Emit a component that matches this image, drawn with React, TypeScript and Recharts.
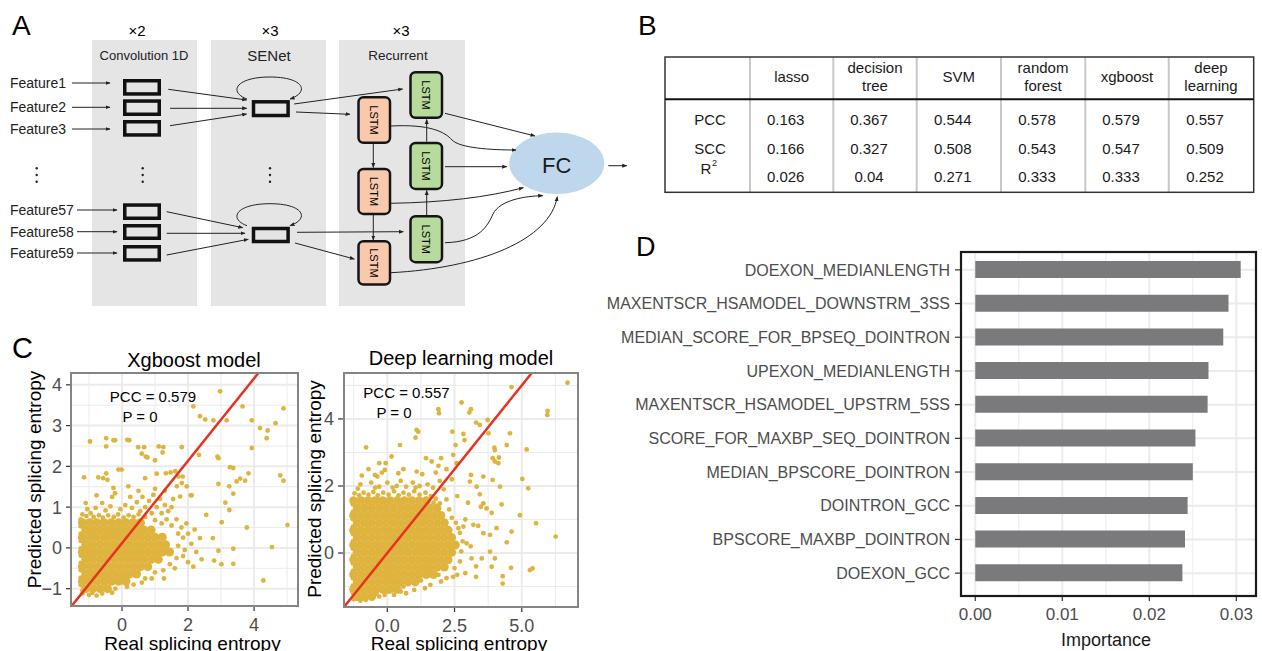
import React from 'react';
import { ScatterChart, Scatter, XAxis, YAxis, CartesianGrid, BarChart, Bar } from 'recharts';

const FONT = "'Liberation Sans', Arial, Helvetica, sans-serif";
const DOT = '#DFB43E';
const RED = '#E5331F';
const GRID = '#EBEBEB';
const TICK_TXT = '#4D4D4D';

// ---- B: model comparison table
const MODELS = [['lasso'], ['decision', 'tree'], ['SVM'], ['random', 'forest'], ['xgboost'], ['deep', 'learning']];
const METRICS = ['PCC', 'SCC', 'R'];
const PCC = [0.163, 0.367, 0.544, 0.578, 0.579, 0.557];
const SCC = [0.166, 0.327, 0.508, 0.543, 0.547, 0.509];
const R2 = [0.026, 0.04, 0.271, 0.333, 0.333, 0.252];

// ---- C: xgboost, real vs predicted entropy (dense core rows: [y, xs])
const XGB_CORE_ROWS: [number, number[]][] = [
  [0.62, [-1.2, -0.98, -0.76, -0.54, -0.32, -0.1, 0.12, 0.34, 0.56]],
  [0.44, [-1.1, -0.88, -0.66, -0.44, -0.22, 0.0, 0.22, 0.44, 0.66, 0.88]],
  [0.26, [-1.2, -0.98, -0.76, -0.54, -0.32, -0.1, 0.12, 0.34, 0.56, 0.78, 1.0, 1.22]],
  [0.08, [-1.1, -0.88, -0.66, -0.44, -0.22, 0.0, 0.22, 0.44, 0.66, 0.88, 1.1, 1.32]],
  [-0.1, [-1.2, -0.98, -0.76, -0.54, -0.32, -0.1, 0.12, 0.34, 0.56, 0.78, 1.0, 1.22, 1.44]],
  [-0.28, [-1.1, -0.88, -0.66, -0.44, -0.22, 0.0, 0.22, 0.44, 0.66, 0.88, 1.1]],
  [-0.46, [-1.2, -0.98, -0.76, -0.54, -0.32, -0.1, 0.12, 0.34, 0.56, 0.78]],
  [-0.64, [-1.1, -0.88, -0.66, -0.44, -0.22, 0.0, 0.22, 0.44]],
  [-0.82, [-1.2, -0.98, -0.76, -0.54, -0.32, -0.1, 0.12]],
  [-1.0, [-1.1, -0.88, -0.66, -0.44]],
];
const XGB_SPARSE: [number, number][] = [
  [2.97, 3.84], [2.16, 3.47], [2.36, 3.23], [2.52, 3.15], [2.77, 3.13], [3.17, 3.13], [3.65, 3.47],
  [3.93, 3.13], [4.18, 2.94], [4.41, 2.88], [4.38, 2.69], [4.65, 3.06], [4.89, 3.42], [3.93, 2.45],
  [-0.97, 2.61], [-0.48, 2.69], [-0.48, 2.49], [-0.26, 2.64], [-0.21, 2.64], [0.16, 2.65], [0.22, 2.64],
  [0.49, 2.47], [0.67, 2.47], [0.6, 2.31], [0.72, 2.24], [0.77, 2.22], [1.0, 2.15], [1.11, 2.49],
  [1.25, 2.47], [1.23, 2.34], [1.81, 2.47], [2.33, 2.28], [2.89, 2.24], [2.92, 2.2],
  [-1.15, 1.73], [-0.72, 1.73], [-0.57, 1.71], [-0.48, 1.83], [-0.44, 1.67], [-0.11, 1.92], [-0.01, 1.92],
  [-0.77, 1.29], [-0.26, 1.47], [-0.21, 1.34], [0.19, 1.51], [0.7, 1.71], [1.05, 1.82], [1.33, 1.83],
  [1.47, 1.85], [1.61, 1.88], [1.71, 1.75], [1.84, 1.75], [1.81, 1.59], [1.66, 1.51], [1.96, 1.51],
  [2.11, 1.29], [1.76, 1.26], [3.27, 1.98], [3.37, 1.96], [3.58, 1.7], [3.47, 1.63], [3.73, 1.65],
  [3.83, 1.83], [2.92, 1.57], [3.25, 1.51], [3.37, 1.33], [3.13, 1.11], [3.25, 0.93], [4.79, 1.78],
  [4.89, 1.65], [3.02, 0.63], [3.78, 0.5], [5.01, 0.56], [4.54, 0.02], [4.28, -0.8], [2.75, 0.24],
  [2.92, -0.07], [3.37, -0.02], [2.79, -0.31], [3.01, -0.4], [3.37, -0.39], [2.55, 0.81], [2.36, 0.24],
  [2.41, -0.28], [2.16, -0.46], [2.08, 1.29], [1.27, -0.75], [0.7, -0.75], [-0.77, -1.17],
  [-1.05, 0.95], [-0.8, 0.98], [-0.5, 0.92], [-0.35, 1.02], [-0.05, 0.95], [0.1, 1.05], [0.3, 0.98],
  [0.45, 1.12], [0.55, 0.9], [0.62, 1.25], [0.7, 1.0], [0.82, 1.15], [0.9, 0.85], [0.95, 1.3],
  [1.05, 1.0], [1.15, 1.2], [1.2, 0.85], [1.3, 1.05], [1.4, 0.9], [1.5, 1.0], [1.55, 1.2], [1.0, 0.68],
  [1.2, 0.6], [1.35, 0.7], [1.5, 0.55], [1.65, 0.7], [1.8, 0.5], [1.95, 0.6], [1.7, 0.35], [1.85, 0.25],
  [2.0, 0.35], [2.2, 0.45], [1.7, 0.05], [1.9, -0.05], [2.1, 0.1], [2.25, -0.1], [1.65, -0.25],
  [1.85, -0.2], [2.0, -0.35], [1.45, -0.4], [1.6, -0.5], [1.25, -0.55], [1.0, -0.6], [0.9, -0.75],
  [0.6, -0.85], [0.35, -0.9], [0.15, -0.95], [-0.2, -1.0], [-0.3, -1.1], [-0.6, -1.12], [-1.0, -1.15],
  [-1.2, -1.05], [1.3, 1.4], [1.0, 1.45], [0.5, 1.4], [-0.6, 1.1], [-1.1, 1.1], [0.25, 1.25], [-0.3, 1.25],
  [-1.2, 0.82], [-1.08, 0.78], [-0.95, 0.85], [-0.86, 0.76], [-0.7, 0.8], [-0.58, 0.74], [-0.42, 0.8],
  [-0.25, 0.76], [-0.12, 0.82], [0.05, 0.74], [0.2, 0.8], [0.35, 0.76], [0.5, 0.82], [0.7, 0.76],
  [-1.25, 0.7], [-1.25, 0.53], [-1.25, 0.35], [-1.25, 0.17], [-1.25, -0.01], [-1.25, -0.19],
  [-1.25, -0.37], [-1.25, -0.55], [-1.25, -0.73], [-1.25, -0.91], [-1.2, -1.12], [-0.9, -1.1],
];
const XGB_DIAG: [number, number][] = [[-1.53, -1.43], [4.13, 4.29]];

// ---- C: deep learning, real vs predicted entropy
const DL_CORE_ROWS: [number, number[]][] = [
  [1.56, [-1.25, -0.98, -0.71, -0.44, -0.17, 0.1, 0.37, 0.64, 0.91, 1.18, 1.45]],
  [1.34, [-1.12, -0.85, -0.58, -0.31, -0.04, 0.23, 0.5, 0.77, 1.04, 1.31, 1.58, 1.85]],
  [1.12, [-1.25, -0.98, -0.71, -0.44, -0.17, 0.1, 0.37, 0.64, 0.91, 1.18, 1.45, 1.72, 1.99]],
  [0.9, [-1.12, -0.85, -0.58, -0.31, -0.04, 0.23, 0.5, 0.77, 1.04, 1.31, 1.58, 1.85, 2.12]],
  [0.68, [-1.25, -0.98, -0.71, -0.44, -0.17, 0.1, 0.37, 0.64, 0.91, 1.18, 1.45, 1.72, 1.99, 2.26]],
  [0.46, [-1.12, -0.85, -0.58, -0.31, -0.04, 0.23, 0.5, 0.77, 1.04, 1.31, 1.58, 1.85, 2.12, 2.39]],
  [0.24, [-1.25, -0.98, -0.71, -0.44, -0.17, 0.1, 0.37, 0.64, 0.91, 1.18, 1.45, 1.72, 1.99, 2.26, 2.53]],
  [0.02, [-1.12, -0.85, -0.58, -0.31, -0.04, 0.23, 0.5, 0.77, 1.04, 1.31, 1.58, 1.85, 2.12, 2.39]],
  [-0.2, [-1.25, -0.98, -0.71, -0.44, -0.17, 0.1, 0.37, 0.64, 0.91, 1.18, 1.45, 1.72, 1.99, 2.26]],
  [-0.42, [-1.12, -0.85, -0.58, -0.31, -0.04, 0.23, 0.5, 0.77, 1.04, 1.31, 1.58, 1.85, 2.12]],
  [-0.64, [-1.25, -0.98, -0.71, -0.44, -0.17, 0.1, 0.37, 0.64, 0.91, 1.18, 1.45, 1.72]],
  [-0.86, [-1.12, -0.85, -0.58, -0.31, -0.04, 0.23, 0.5, 0.77, 1.04]],
  [-1.08, [-1.25, -0.98, -0.71, -0.44, -0.17, 0.1, 0.37]],
  [-1.3, [-1.12, -0.85, -0.58]],
];
const DL_SPARSE: [number, number][] = [
  [6.7, 5.08], [4.62, 4.95], [2.76, 4.49], [1.9, 4.29], [1.92, 4.17], [3.11, 4.29], [3.05, 4.19],
  [5.96, 4.24], [5.95, 4.12], [3.73, 3.97], [3.3, 3.89], [3.44, 3.82], [2.42, 3.62], [2.83, 3.55],
  [3.76, 3.57], [2.87, 3.37], [4.56, 3.57], [1.09, 3.67], [1.15, 3.62], [1.05, 3.44], [-0.79, 3.15],
  [0.47, 3.22], [3.98, 3.14], [4.0, 3.07], [4.44, 3.22], [5.18, 3.09], [0.16, 2.88], [-0.06, 2.68],
  [-0.3, 2.68], [-0.95, 2.31], [-0.46, 2.33], [-0.37, 2.28], [-0.09, 2.48], [0.41, 2.38], [1.09, 2.43],
  [1.44, 2.83], [1.65, 2.73], [2.0, 2.83], [2.45, 2.93], [2.54, 3.22], [2.58, 2.68], [3.11, 2.33],
  [3.57, 2.28], [3.92, 2.18], [4.0, 2.73], [3.92, 2.83], [4.13, 2.68], [4.15, 2.85], [5.02, 2.21],
  [5.24, 1.93], [4.19, 1.98], [3.32, 1.98], [3.44, 1.75], [3.48, 1.38], [3.69, 1.33], [3.88, 1.2],
  [4.25, 1.45], [4.93, 1.13], [5.53, 0.89], [4.62, 0.64], [4.44, 0.32], [6.26, 0.49], [3.2, 0.84],
  [3.38, 0.81], [3.57, 0.59], [3.82, 0.54], [4.06, 0.74], [3.82, 0.04], [3.51, -0.16], [4.0, -0.16],
  [3.13, -0.16], [4.6, -0.44], [3.88, -0.41], [4.29, -0.69], [4.29, -0.91], [3.3, -0.71], [5.3, -0.51],
  [5.4, -0.46], [2.33, 0.51], [2.64, 0.74], [2.83, 0.79], [2.45, -0.71], [2.95, 0.29], [0.25, -1.25],
  [3.57, 1.48], [3.07, 2.13],
  [-1.0, 2.05], [-0.6, 2.1], [-0.3, 1.98], [0.0, 2.1], [0.2, 1.95], [0.5, 2.15], [0.7, 1.98],
  [0.95, 2.1], [1.2, 2.0], [1.5, 2.05], [1.7, 1.95], [1.95, 2.15], [2.1, 1.9], [2.2, 1.6], [2.3, 1.3],
  [2.4, 1.05], [2.55, 0.9], [2.7, 0.6], [2.8, 0.35], [2.75, 0.05], [2.7, -0.25], [2.5, -0.45],
  [2.6, -0.65], [2.2, -0.75], [2.0, -0.85], [1.6, -0.95], [1.4, -1.05], [1.0, -1.1], [0.7, -1.2],
  [0.5, -1.15], [-0.3, -1.3], [-0.1, -1.25], [-1.25, -1.38], [-1.0, -1.42], [-0.8, -1.4], [2.9, 1.0],
  [3.0, 1.5], [2.6, 1.7], [2.4, 2.2], [1.8, 2.4], [1.3, 2.35], [0.6, 2.5], [-0.2, 2.4], [-0.7, 2.5],
  [3.1, 0.2], [3.3, -0.4], [2.9, -0.6], [1.9, 2.6], [2.2, 2.5],
  [-1.22, 1.78], [-1.05, 1.72], [-0.88, 1.8], [-0.7, 1.74], [-0.52, 1.82], [-0.35, 1.72], [-0.15, 1.8],
  [0.05, 1.74], [0.25, 1.84], [0.42, 1.72], [0.6, 1.8], [0.8, 1.74], [1.0, 1.84], [1.2, 1.74],
  [1.42, 1.8], [1.62, 1.7], [1.8, 1.62], [1.72, 1.5], [1.95, 1.48], [-1.1, 1.92], [-0.45, 1.95],
  [0.35, 2.0], [1.05, 1.95], [-1.28, 1.45], [-1.28, 1.23], [-1.28, 1.01], [-1.28, 0.79], [-1.28, 0.57],
  [-1.28, 0.35], [-1.28, 0.13], [-1.28, -0.09], [-1.28, -0.31], [-1.28, -0.53], [-1.28, -0.75],
  [-1.28, -0.97], [-1.28, -1.19], [-0.4, -1.22], [0.0, -1.15], [0.6, -1.0], [1.25, -0.82], [1.9, -0.65],
];
const DL_DIAG: [number, number][] = [[-1.61, -1.61], [5.37, 5.37]];

// ---- D: feature importance (top 10)
const FEATURES = [
  'DOEXON_MEDIANLENGTH',
  'MAXENTSCR_HSAMODEL_DOWNSTRM_3SS',
  'MEDIAN_SCORE_FOR_BPSEQ_DOINTRON',
  'UPEXON_MEDIANLENGTH',
  'MAXENTSCR_HSAMODEL_UPSTRM_5SS',
  'SCORE_FOR_MAXBP_SEQ_DOINTRON',
  'MEDIAN_BPSCORE_DOINTRON',
  'DOINTRON_GCC',
  'BPSCORE_MAXBP_DOINTRON',
  'DOEXON_GCC',
];
const IMPORTANCE = [0.0305, 0.0291, 0.0285, 0.0268, 0.0267, 0.0253, 0.025, 0.0244, 0.0241, 0.0238];
const IMP_TICKS = [0, 0.01, 0.02, 0.03];
const IMP_MINOR = [0.005, 0.015, 0.025];

const toPts = (rows: [number, number[]][]) => rows.flatMap(([y, xs]) => xs.map((x) => ({ x, y })));
const pairPts = (arr: [number, number][]) => arr.map(([x, y]) => ({ x, y }));
const minus = (v: number) => (v < 0 ? `\u2212${Math.abs(v)}` : String(v));

const dot = (r: number) => (p: any) => <circle cx={p.cx} cy={p.cy} r={r} fill={DOT} />;

interface ScatterProps {
  core: { x: number; y: number }[];
  sparse: { x: number; y: number }[];
  diag: { x: number; y: number }[];
  xDomain: [number, number];
  yDomain: [number, number];
  xTicks: number[];
  yTicks: number[];
  xMinor: number[];
  yMinor: number[];
  width: number;
  height: number;
  yWidth: number;
  yTickSize: number;
  xFmt: (v: number) => string;
}

function EntropyScatter(p: ScatterProps) {
  return (
    <ScatterChart width={p.width} height={p.height} margin={{ top: 30, right: 5, bottom: 0, left: 0 }}>
      <CartesianGrid stroke={GRID} strokeWidth={1} verticalValues={p.xMinor} horizontalValues={p.yMinor} />
      <CartesianGrid stroke={GRID} strokeWidth={2} verticalValues={p.xTicks} horizontalValues={p.yTicks} />
      <XAxis
        type="number"
        dataKey="x"
        domain={p.xDomain}
        ticks={p.xTicks}
        interval={0}
        allowDataOverflow
        axisLine={false}
        tickLine={{ stroke: '#333', strokeWidth: 1.2 }}
        tickSize={5}
        tickMargin={7}
        height={30}
        tick={{ fontSize: 18, fill: TICK_TXT }}
        tickFormatter={p.xFmt}
      />
      <YAxis
        type="number"
        dataKey="y"
        domain={p.yDomain}
        ticks={p.yTicks}
        interval={0}
        allowDataOverflow
        axisLine={false}
        tickLine={{ stroke: '#333', strokeWidth: 1.2 }}
        tickSize={p.yTickSize}
        tickMargin={4}
        width={p.yWidth}
        tick={{ fontSize: 18, fill: TICK_TXT }}
        tickFormatter={minus}
      />
      <Scatter data={p.core} shape={dot(4.5)} isAnimationActive={false} />
      <Scatter data={p.sparse} shape={dot(2.4)} isAnimationActive={false} />
      <Scatter data={p.diag} line={{ stroke: RED, strokeWidth: 2.5 }} shape={() => <g />} isAnimationActive={false} />
    </ScatterChart>
  );
}

function Diagram() {
  const lstm = (x: number, y: number, h: number, fill: string, key: string) => (
    <g key={key}>
      <rect x={x} y={y} width={31.5} height={h} rx={5} fill={fill} stroke="#151515" strokeWidth={2.5} />
      <text
        x={x + 15.75}
        y={y + h / 2}
        fontSize={11}
        textAnchor="middle"
        dominantBaseline="central"
        transform={`rotate(90 ${x + 15.75} ${y + h / 2})`}
      >
        LSTM
      </text>
    </g>
  );
  const convRows = [79, 99.3, 120, 203.3, 224, 245];
  const convH = [16.7, 16.7, 16.7, 16.7, 16, 16.7];
  const feats: [string, number][] = [
    ['Feature1', 83], ['Feature2', 107.3], ['Feature3', 129],
    ['Feature57', 210], ['Feature58', 231.7], ['Feature59', 253],
  ];
  const ln = { stroke: '#222', strokeWidth: 1, fill: 'none', markerEnd: 'url(#ah)' };
  return (
    <g>
      <rect x={92} y={40} width={105} height={266} fill="#E6E5E6" />
      <rect x={211} y={40} width={115} height={266} fill="#E6E5E6" />
      <rect x={339} y={40} width={126} height={266} fill="#E6E5E6" />
      <text x={137} y={36} fontSize={15} textAnchor="middle">×2</text>
      <text x={270} y={36} fontSize={15} textAnchor="middle">×3</text>
      <text x={401} y={36} fontSize={15} textAnchor="middle">×3</text>
      <text x={144} y={59.5} fontSize={13} textAnchor="middle" fill="#222">Convolution 1D</text>
      <text x={269} y={60.5} fontSize={15} textAnchor="middle" fill="#222">SENet</text>
      <text x={398} y={59.5} fontSize={13.5} textAnchor="middle" fill="#222">Recurrent</text>
      {feats.map(([f, y], i) => (
        <g key={f}>
          <text x={10} y={y + 5} fontSize={14} fill="#222">{f}</text>
          <line x1={i < 3 ? 72 : 77} y1={y} x2={i < 3 ? 110 : 117} y2={y} {...ln} />
        </g>
      ))}
      {convRows.map((y, i) => (
        <rect key={i} x={124.75} y={y + 1.75} width={34.5} height={convH[i] - 3.5} fill="none" stroke="#111" strokeWidth={3.5} />
      ))}
      {[36.7, 142.7, 270].map((x) => (
        <g key={x} fill="#222">
          <circle cx={x} cy={168.3} r={1.2} />
          <circle cx={x} cy={175} r={1.2} />
          <circle cx={x} cy={181.7} r={1.2} />
        </g>
      ))}
      <rect x={253.5} y={101.8} width={34.6} height={13.7} fill="none" stroke="#111" strokeWidth={3.5} />
      <rect x={253.5} y={228.5} width={34.6} height={13} fill="none" stroke="#111" strokeWidth={3.5} />
      <path d="M247,99 C228,92 236,77 270,77 C304,77 310,92 290,99" {...ln} />
      <path d="M247,225.7 C228,218.7 236,203.7 270,203.7 C304,203.7 310,218.7 290,225.7" {...ln} />
      <path d="M168.3,89.3 L246.7,100" {...ln} />
      <path d="M170,108.3 L246.7,108.3" {...ln} />
      <path d="M170,125.7 L246.7,114" {...ln} />
      <path d="M166.7,211.7 L242.7,227.7" {...ln} />
      <path d="M166.7,233.3 L245,233.3" {...ln} />
      <path d="M166.7,255 L248.3,239.3" {...ln} />
      <path d="M294,104 L402.7,89" {...ln} />
      <path d="M296,112 L350,114.3" {...ln} />
      <path d="M297,232.3 L403.3,231.7" {...ln} />
      <path d="M295,243 L354.3,259" {...ln} />
      {lstm(358.5, 97.2, 45.6, '#F8C9AC', 'o1')}
      {lstm(358.5, 168.9, 45, '#F8C9AC', 'o2')}
      {lstm(358.5, 241.2, 43.4, '#F8C9AC', 'o3')}
      {lstm(410.5, 72.2, 45.6, '#B7DA9D', 'g1')}
      {lstm(410.5, 142.9, 46, '#B7DA9D', 'g2')}
      {lstm(410.5, 216.2, 46, '#B7DA9D', 'g3')}
      <path d="M373.3,144 L373.3,167.5" {...ln} />
      <path d="M373.3,215 L373.3,240" {...ln} />
      <path d="M426.7,215 L426.7,190.5" {...ln} />
      <path d="M426.7,141.7 L426.7,119.5" {...ln} />
      <ellipse cx={556.8} cy={163.3} rx={47.5} ry={30.7} fill="#BFD7EC" />
      <text x={556.7} y={173} fontSize={22} textAnchor="middle" fill="#1a1a1a">FC</text>
      <path d="M445,113.3 L535,136" {...ln} />
      <path d="M391,126 C430,124 445,132 452,140 C460,148 490,150 516,150" {...ln} />
      <path d="M445,166.7 L506.7,166.7" {...ln} />
      <path d="M391,203.3 Q470,202 523.3,187.7" {...ln} />
      <path d="M445,242.7 C480,242 488,225 493,214 C500,200 525,196 542.7,195.7" {...ln} />
      <path d="M391,272.7 C480,268 550,240 557.3,196.7" {...ln} />
      <path d="M608.3,165.7 L626.7,165.7" {...ln} />
    </g>
  );
}

function Table() {
  const seps = [750, 833.3, 916.7, 1001, 1085.3, 1168.7];
  const colX = [791.7, 875, 958.8, 1043, 1127, 1211];
  const rows = [PCC, SCC, R2];
  const rowY = [125.4, 154.4, 182.4];
  return (
    <g fontSize={15} fill="#1a1a1a">
      {seps.map((x) => (
        <line key={x} x1={x} y1={57} x2={x} y2={192.3} stroke="#C8C8C8" strokeWidth={2} />
      ))}
      <rect x={665} y={57} width={588.7} height={135.3} fill="none" stroke="#333" strokeWidth={1.5} />
      <line x1={665} y1={99.3} x2={1253.7} y2={99.3} stroke="#111" strokeWidth={2} />
      {MODELS.map((m, i) =>
        m.length === 1 ? (
          <text key={i} x={colX[i]} y={82.4} textAnchor="middle">{m[0]}</text>
        ) : (
          <g key={i}>
            <text x={colX[i]} y={73.4} textAnchor="middle">{m[0]}</text>
            <text x={colX[i]} y={91.4} textAnchor="middle">{m[1]}</text>
          </g>
        ),
      )}
      <text x={710} y={125.4} textAnchor="middle">{METRICS[0]}</text>
      <text x={710} y={154.4} textAnchor="middle">{METRICS[1]}</text>
      <text x={706} y={173.5} textAnchor="middle">{METRICS[2]}</text>
      <text x={714.5} y={166} fontSize={9} textAnchor="middle">2</text>
      {rows.map((vals, r) =>
        vals.map((v, i) => (
          <text key={`${r}-${i}`} x={colX[i] - 6} y={rowY[r]} textAnchor="middle">{String(v)}</text>
        )),
      )}
    </g>
  );
}

export default function App() {
  const featData = FEATURES.map((name, i) => ({ name, value: IMPORTANCE[i] }));
  const abs = (l: number, t: number): React.CSSProperties => ({ position: 'absolute', left: l, top: t });
  return (
    <div style={{ position: 'absolute', left: 0, top: 0, width: 1262, height: 651, background: '#fff', overflow: 'hidden', fontFamily: FONT }}>
      <div style={abs(0, 343)}>
        <EntropyScatter
          core={toPts(XGB_CORE_ROWS)}
          sparse={pairPts(XGB_SPARSE)}
          diag={pairPts(XGB_DIAG)}
          xDomain={[-1.545, 5.33]}
          yDomain={[-1.425, 4.29]}
          xTicks={[0, 2, 4]}
          yTicks={[-1, 0, 1, 2, 3, 4]}
          xMinor={[-1, 1, 3, 5]}
          yMinor={[-0.5, 0.5, 1.5, 2.5, 3.5]}
          width={303}
          height={293}
          yWidth={71}
          yTickSize={5}
          xFmt={(v) => String(v)}
        />
      </div>
      <div style={abs(290, 343)}>
        <EntropyScatter
          core={toPts(DL_CORE_ROWS)}
          sparse={pairPts(DL_SPARSE)}
          diag={pairPts(DL_DIAG)}
          xDomain={[-1.61, 7.09]}
          yDomain={[-1.61, 5.37]}
          xTicks={[0, 2.5, 5]}
          yTicks={[0, 2, 4]}
          xMinor={[-1.25, 1.25, 3.75, 6.25]}
          yMinor={[-1, 1, 3, 5]}
          width={293}
          height={294}
          yWidth={54}
          yTickSize={6}
          xFmt={(v) => v.toFixed(1)}
        />
      </div>
      <div style={abs(590, 230)}>
        <BarChart layout="vertical" width={672} height={396} data={featData} margin={{ top: 22, right: 6, bottom: 0, left: 0 }}>
          <CartesianGrid stroke={GRID} strokeWidth={1} verticalValues={IMP_MINOR} horizontal={false} />
          <CartesianGrid stroke={GRID} strokeWidth={2} verticalValues={IMP_TICKS} />
          <XAxis
            type="number"
            domain={[-0.00164, 0.03226]}
            ticks={IMP_TICKS}
            interval={0}
            allowDataOverflow
            axisLine={false}
            tickLine={{ stroke: '#333', strokeWidth: 1.2 }}
            tickSize={5}
            tickMargin={7}
            height={30}
            tick={{ fontSize: 17, fill: TICK_TXT }}
            tickFormatter={(v: number) => v.toFixed(2)}
          />
          <YAxis
            type="category"
            dataKey="name"
            width={371}
            padding={{ top: 1, bottom: 6 }}
            axisLine={false}
            tickLine={{ stroke: '#333', strokeWidth: 1.2 }}
            tickSize={6}
            tickMargin={5}
            interval={0}
            tick={{ fontSize: 16, fill: TICK_TXT }}
          />
          <Bar dataKey="value" fill="#7A797B" barSize={17} isAnimationActive={false} />
        </BarChart>
      </div>
      <svg width={1262} height={651} style={{ position: 'absolute', left: 0, top: 0, pointerEvents: 'none' }} fontFamily={FONT}>
        <defs>
          <marker id="ah" viewBox="0 0 10 10" refX="9" refY="5" markerWidth="5" markerHeight="5" orient="auto" markerUnits="userSpaceOnUse">
            <path d="M0,1 L10,5 L0,9 z" fill="#222" />
          </marker>
        </defs>
        <Diagram />
        <Table />
        <text x={12} y={35} fontSize={28}>A</text>
        <text x={638} y={35} fontSize={28}>B</text>
        <text x={12} y={358} fontSize={29}>C</text>
        <text x={636} y={256} fontSize={27}>D</text>
        {/* panel borders */}
        <rect x={71} y={373} width={227} height={233} fill="none" stroke="#858585" strokeWidth={2} />
        <rect x={344} y={373} width={234} height={234} fill="none" stroke="#858585" strokeWidth={2} />
        <rect x={961} y={252} width={295} height={344} fill="none" stroke="#1a1a1a" strokeWidth={2.2} />
        <text x={194} y={367} fontSize={20} textAnchor="middle">Xgboost model</text>
        <text x={461} y={365} fontSize={20} textAnchor="middle">Deep learning model</text>
        <text x={153} y={401.7} fontSize={15} textAnchor="middle">PCC = 0.579</text>
        <text x={140} y={421.7} fontSize={15} textAnchor="middle">P = 0</text>
        <text x={406.5} y={398.3} fontSize={15} textAnchor="middle">PCC = 0.557</text>
        <text x={394} y={418} fontSize={15} textAnchor="middle">P = 0</text>
        <text x={192.5} y={649.5} fontSize={19} textAnchor="middle">Real splicing entropy</text>
        <text x={459} y={649.5} fontSize={19} textAnchor="middle">Real splicing entropy</text>
        <text transform="translate(41 479.5) rotate(-90)" fontSize={19} textAnchor="middle">Predicted splicing entropy</text>
        <text transform="translate(321 489) rotate(-90)" fontSize={19} textAnchor="middle">Predicted splicing entropy</text>
        <text x={1106} y={646} fontSize={18} textAnchor="middle" fill="#1a1a1a">Importance</text>
      </svg>
    </div>
  );
}
